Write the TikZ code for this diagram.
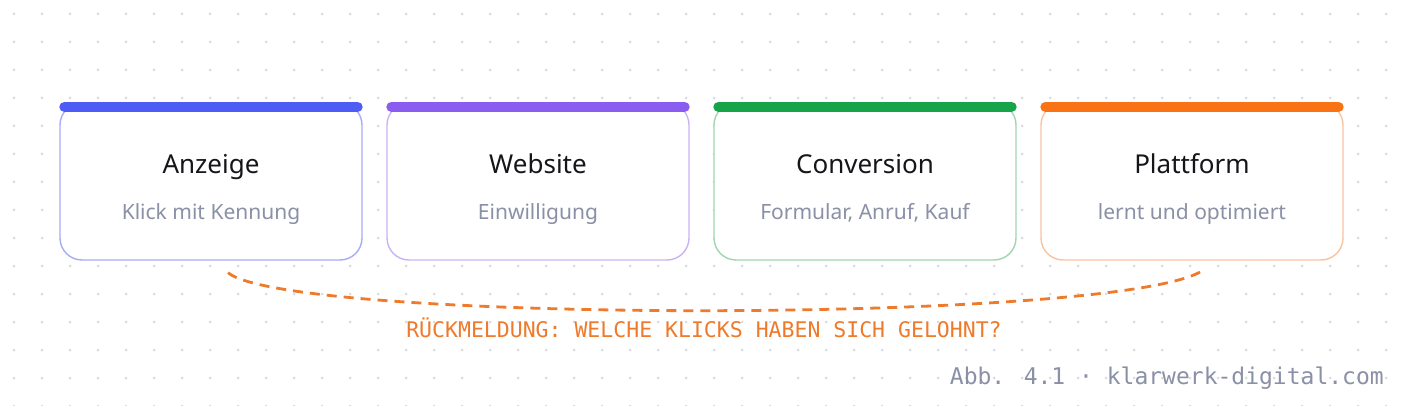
\documentclass[tikz,border=0pt]{standalone}
\usepackage{fontspec}
\setmainfont{Noto Sans}
\newfontfamily\monof{DejaVu Sans Mono}
\definecolor{dotc}{HTML}{DADBE0}
\definecolor{subc}{HTML}{8A90A6}
\definecolor{titc}{HTML}{16161A}
\definecolor{cBlue}{HTML}{4F5BF5}
\definecolor{cBlueL}{HTML}{A6ACF6}
\definecolor{cPurp}{HTML}{8B5CF0}
\definecolor{cPurpL}{HTML}{CBB3F3}
\definecolor{cGreen}{HTML}{16A34A}
\definecolor{cGreenL}{HTML}{A0D5AE}
\definecolor{cOrange}{HTML}{F97316}
\definecolor{cOrangeL}{HTML}{F8C4A0}
\definecolor{fbk}{HTML}{EE7A2C}
\tikzset{
  card/.style={draw, line width=1.4pt, fill=white, rounded corners=22pt, minimum width=302pt, minimum height=157pt, inner sep=0pt},
  cardbar/.style={line width=10.5pt, line cap=round},
  ttl/.style={text=titc, font=\fontsize{26}{30}\selectfont, inner sep=0pt, anchor=base},
  sub/.style={text=subc, font=\fontsize{21}{24}\selectfont, inner sep=0pt, anchor=base},
  fb/.style={draw=fbk, line width=2.8pt, dash pattern=on 10pt off 7pt},
}
\begin{document}
\begin{tikzpicture}[x=1pt,y=-1pt]
\useasboundingbox (0,0) rectangle (1408,406);
\fill[white] (0,0) rectangle (1408,406);
\foreach \x in {14,42,...,1400}{
  \foreach \y in {14,42,...,406}{
    \fill[dotc] (\x,\y) circle (1.5pt);
  }
}
% cards
\foreach \n/\cx/\bc/\lc/\t/\s in {b1/211/cBlue/cBlueL/Anzeige/Klick mit Kennung,
                                  b2/538/cPurp/cPurpL/Website/Einwilligung,
                                  b3/865/cGreen/cGreenL/Conversion/{Formular, Anruf, Kauf},
                                  b4/1192/cOrange/cOrangeL/Plattform/lernt und optimiert}{
  \node[card, draw=\lc] (\n) at (\cx,181.5) {};
  \draw[cardbar, \bc] ([xshift=5.25pt,yshift=-4.5pt]\n.north west) -- ([xshift=-5.25pt,yshift=-4.5pt]\n.north east);
  \node[ttl] (\n t) at (\cx,174) {\t};
  \node[sub] (\n s) at (\cx,220) {\s};
}
% feedback curve
\coordinate (fs) at ([xshift=17pt,yshift=-12pt]b1.south);
\coordinate (fe) at ([xshift=13pt,yshift=-8pt]b4.south);
\draw[fb] (fs) .. controls (290,324) and (1140,324) .. (fe);
\node[text=fbk, font=\monof\fontsize{21.5}{24}\selectfont, inner sep=0pt, anchor=base] (lab) at (704,337) {RÜCKMELDUNG: WELCHE KLICKS HABEN SICH GELOHNT?};
\node[text=subc, font=\monof\fontsize{23}{26}\selectfont, inner sep=0pt, anchor=base east] (foot) at (1384,384) {Abb. 4.1 · klarwerk-digital.com};
\end{tikzpicture}
\end{document}
